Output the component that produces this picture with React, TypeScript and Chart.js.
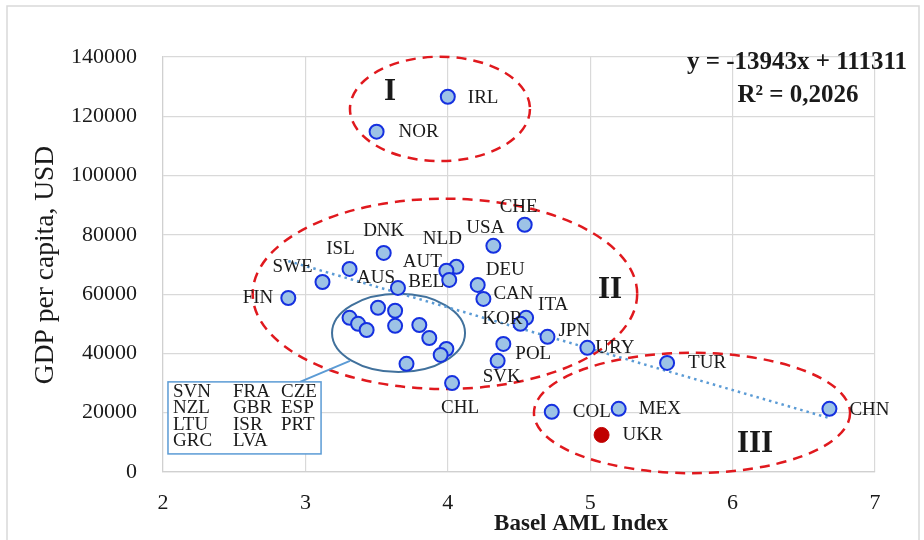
import React, { useEffect, useRef } from 'react';
import { Chart, registerables } from 'chart.js';

Chart.register(...registerables);

// ---------- data ----------
const countries = ['IRL', 'NOR', 'CHE', 'USA', 'DNK', 'ISL', 'NLD', 'AUT', 'BEL', 'AUS', 'SWE', 'FIN', 'DEU', 'CAN', 'ITA', 'KOR', 'JPN', 'URY', 'POL', 'SVK', 'CHL', 'TUR', 'CHN', 'MEX', 'COL'];
const amlIndex = [4.0, 3.5, 4.54, 4.32, 3.55, 3.31, 4.06, 3.99, 4.01, 3.65, 3.12, 2.88, 4.21, 4.25, 4.55, 4.51, 4.7, 4.98, 4.39, 4.35, 4.03, 5.54, 6.68, 5.2, 4.73];
const gdpPerCapita = [126600, 114800, 83400, 76300, 73900, 68500, 69200, 67900, 64800, 62100, 64100, 58700, 63100, 58400, 52000, 50000, 45600, 41900, 43200, 37500, 30000, 36800, 21300, 21300, 20300];

const clusterLabels = ['SVN', 'FRA', 'CZE', 'NZL', 'GBR', 'ESP', 'LTU', 'ISR', 'PRT', 'GRC', 'LVA'];
const clusterAml = [3.51, 3.63, 3.31, 3.37, 3.43, 3.63, 3.8, 3.87, 3.99, 3.95, 3.71];
const clusterGdp = [55400, 54400, 52000, 50000, 47900, 49300, 49600, 45200, 41500, 39500, 36500];

const highlightCountry = ['UKR'];
const highlightAml = [5.08];
const highlightGdp = [12500];

const xTicks = [2, 3, 4, 5, 6, 7];
const yTicks = [0, 20000, 40000, 60000, 80000, 100000, 120000, 140000];

const trendSlope = -13943;
const trendIntercept = 111311;
const equationLines = ['y = -13943x + 111311', 'R² = 0,2026'];

const groupNames = ['I', 'II', 'III'];
// ellipse: centre x, centre y, radius x, radius y (data units)
const groupEllipses = [
  [3.945, 122500, 0.632, 17600],
  [3.98, 60100, 1.35, 32100],
  [5.715, 19900, 1.11, 20300],
];
const clusterEllipse = [3.654, 46900, 0.467, 13200];

const xTitle = 'Basel AML Index';
const yTitle = 'GDP per capita, USD';

// ---------- styles / positions ----------
const SERIF = '"Liberation Serif", "Times New Roman", serif';
const labelOffsets: Record<string, [number, number, CanvasTextAlign]> = {
  IRL: [20, 1, 'left'], NOR: [22, 0, 'left'], CHE: [-6, -18, 'center'], USA: [-8, -18, 'center'],
  DNK: [0, -22, 'center'], ISL: [-9, -20, 'center'], NLD: [-14, -28, 'center'], AUT: [-24, -9, 'center'],
  BEL: [-5, 2, 'right'], AUS: [-3, -10, 'right'], SWE: [-30, -15, 'center'], FIN: [-15, 0, 'right'],
  DEU: [8, -15, 'left'], CAN: [10, -5, 'left'], ITA: [12, -13, 'left'], KOR: [-18, -5, 'center'],
  JPN: [11, -6, 'left'], URY: [8, 0, 'left'], POL: [12, 10, 'left'], SVK: [4, 16, 'center'],
  CHL: [8, 25, 'center'], TUR: [21, 0, 'left'], CHN: [20, 1, 'left'], MEX: [20, 0, 'left'],
  COL: [21, 0, 'left'], UKR: [21, 0, 'left'],
};
const groupLabelPos: [number, number][] = [[390, 100], [610, 298], [755, 452]];

const annotate = {
  id: 'annotate',
  beforeDraw(chart: any) {
    const ctx = chart.ctx;
    ctx.save();
    ctx.strokeStyle = '#D9D9D9';
    ctx.lineWidth = 1.5;
    ctx.strokeRect(7, 6, 912, 560);
    ctx.restore();
  },
  beforeDatasetsDraw(chart: any) {
    const ctx = chart.ctx;
    const xs = chart.scales.x;
    const ys = chart.scales.y;
    const drawEll = (e: number[]) => {
      const cx = xs.getPixelForValue(e[0]);
      const cy = ys.getPixelForValue(e[1]);
      const rx = Math.abs(xs.getPixelForValue(e[0] + e[2]) - cx);
      const ry = Math.abs(ys.getPixelForValue(e[1] + e[3]) - cy);
      ctx.beginPath();
      ctx.ellipse(cx, cy, rx, ry, 0, 0, Math.PI * 2);
      ctx.stroke();
    };
    ctx.save();
    ctx.strokeStyle = '#E0191E';
    ctx.lineWidth = 2.5;
    ctx.setLineDash([10, 7]);
    groupEllipses.forEach(drawEll);
    ctx.setLineDash([]);
    ctx.strokeStyle = '#41719C';
    ctx.lineWidth = 2;
    drawEll(clusterEllipse);
    ctx.restore();
  },
  afterDatasetsDraw(chart: any) {
    const ctx = chart.ctx;
    const xs = chart.scales.x;
    const ys = chart.scales.y;
    ctx.save();
    // point labels
    ctx.fillStyle = '#1A1A1A';
    ctx.font = '19px ' + SERIF;
    ctx.textBaseline = 'middle';
    const allNames = countries.concat(highlightCountry);
    const allX = amlIndex.concat(highlightAml);
    const allY = gdpPerCapita.concat(highlightGdp);
    allNames.forEach((n, i) => {
      const o = labelOffsets[n] || [18, 0, 'left'];
      ctx.textAlign = o[2];
      ctx.fillText(n, xs.getPixelForValue(allX[i]) + o[0], ys.getPixelForValue(allY[i]) + o[1]);
    });
    // group numerals
    ctx.font = 'bold 31px ' + SERIF;
    ctx.textAlign = 'center';
    ctx.textBaseline = 'alphabetic';
    groupNames.forEach((g, i) => ctx.fillText(g, groupLabelPos[i][0], groupLabelPos[i][1]));

    // connector + cluster box
    const bx0 = xs.getPixelForValue(2.035);
    const by0 = ys.getPixelForValue(30400);
    const bx1 = xs.getPixelForValue(3.11);
    const by1 = ys.getPixelForValue(6100);
    ctx.strokeStyle = '#5B9BD5';
    ctx.lineWidth = 2;
    ctx.beginPath();
    ctx.moveTo(xs.getPixelForValue(2.962), by0);
    ctx.lineTo(xs.getPixelForValue(3.313), ys.getPixelForValue(37500));
    ctx.stroke();
    ctx.fillStyle = '#FFFFFF';
    ctx.fillRect(bx0, by0, bx1 - bx0, by1 - by0);
    ctx.lineWidth = 1.5;
    ctx.strokeRect(bx0, by0, bx1 - bx0, by1 - by0);
    ctx.fillStyle = '#1A1A1A';
    ctx.font = '19px ' + SERIF;
    ctx.textAlign = 'left';
    ctx.textBaseline = 'middle';
    const colX = [5, 65, 113];
    clusterLabels.forEach((n, i) => {
      const r = Math.floor(i / 3);
      const c = i % 3;
      ctx.fillText(n, bx0 + colX[c], by0 + 10 + r * 16.5);
    });

    // equation
    ctx.font = 'bold 25px ' + SERIF;
    ctx.textAlign = 'center';
    ctx.textBaseline = 'alphabetic';
    ctx.fillText(equationLines[0], 797, 69);
    ctx.fillText(equationLines[1], 798, 102);

    // axis titles
    ctx.font = 'bold 23px ' + SERIF;
    ctx.fillText(xTitle, (chart.chartArea.left + chart.chartArea.right) / 2 + 62, 530);
    ctx.save();
    ctx.translate(53, 265);
    ctx.rotate(-Math.PI / 2);
    ctx.font = '27.5px ' + SERIF;
    ctx.fillText(yTitle, 0, 0);
    ctx.restore();
    ctx.restore();
  },
};

export default function App() {
  const ref = useRef<HTMLCanvasElement | null>(null);
  useEffect(() => {
    if (!ref.current) return;
    const xMin = Math.min(...amlIndex);
    const xMax = Math.max(...amlIndex);
    const chart = new Chart(ref.current, {
      type: 'scatter',
      data: {
        datasets: [
          {
            type: 'line',
            data: [
              { x: xMin, y: trendSlope * xMin + trendIntercept },
              { x: xMax, y: trendSlope * xMax + trendIntercept },
            ],
            borderColor: '#5B9BD5',
            borderWidth: 2.5,
            borderDash: [2.5, 4],
            borderCapStyle: 'butt',
            pointRadius: 0,
            fill: false,
            order: 3,
          } as any,
          {
            data: amlIndex.map((x, i) => ({ x, y: gdpPerCapita[i] })),
            backgroundColor: '#9DC3E6',
            borderColor: '#1530E0',
            borderWidth: 2,
            pointRadius: 7,
            order: 1,
          },
          {
            data: clusterAml.map((x, i) => ({ x, y: clusterGdp[i] })),
            backgroundColor: '#9DC3E6',
            borderColor: '#1530E0',
            borderWidth: 2,
            pointRadius: 7,
            order: 1,
          },
          {
            data: highlightAml.map((x, i) => ({ x, y: highlightGdp[i] })),
            backgroundColor: '#C00000',
            borderColor: '#C00000',
            borderWidth: 1,
            pointRadius: 7.5,
            order: 0,
          },
        ],
      },
      options: {
        animation: false,
        responsive: false,
        layout: { padding: { top: 57, right: 49, left: 0, bottom: 0 } },
        plugins: { legend: { display: false }, tooltip: { enabled: false } },
        scales: {
          x: {
            type: 'linear',
            min: xTicks[0],
            max: xTicks[xTicks.length - 1],
            afterBuildTicks: (s: any) => { s.ticks = xTicks.map((v) => ({ value: v })); },
            ticks: { font: { family: SERIF, size: 22 }, color: '#1A1A1A', padding: 18 },
            grid: { color: '#D9D9D9', drawTicks: false, lineWidth: 1.2 },
            border: { color: '#D0D0D0', width: 1.2 },
            afterFit: (s: any) => { s.height = 68; },
          },
          y: {
            type: 'linear',
            min: yTicks[0],
            max: yTicks[yTicks.length - 1],
            afterBuildTicks: (s: any) => { s.ticks = yTicks.map((v) => ({ value: v })); },
            ticks: { font: { family: SERIF, size: 22 }, color: '#1A1A1A', padding: 26, callback: (v: any) => String(v) },
            grid: { color: '#D9D9D9', drawTicks: false, lineWidth: 1.2 },
            border: { color: '#D0D0D0', width: 1.2 },
            afterFit: (s: any) => { s.width = 163; },
          },
        },
      },
      plugins: [annotate],
    });
    return () => chart.destroy();
  }, []);
  return (
    <div style={{ position: 'fixed', left: 0, top: 0, width: 924, height: 540, background: '#fff' }}>
      <canvas ref={ref} width={924} height={540} style={{ width: 924, height: 540 }} />
    </div>
  );
}
